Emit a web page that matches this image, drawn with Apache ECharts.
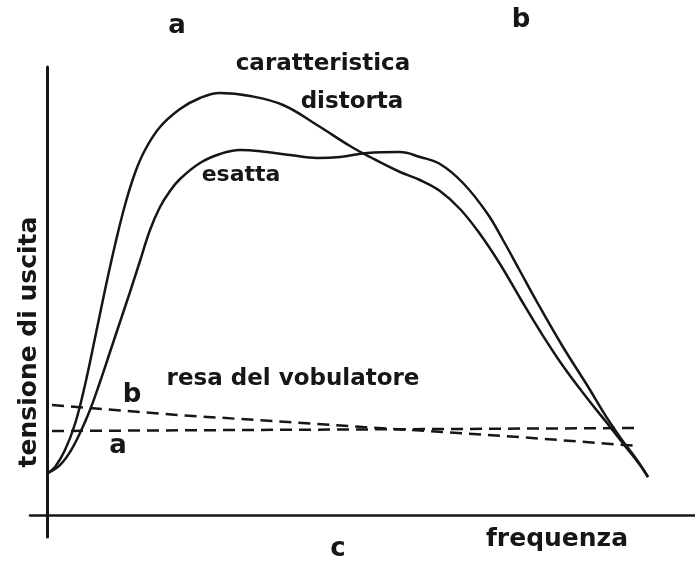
<!DOCTYPE html>
<html lang="it">
<head>
  <meta charset="UTF-8">
  <title>caratteristica</title>
  <script src="https://cdn.jsdelivr.net/npm/echarts@6/dist/echarts.min.js"></script>
</head>
<body style="margin: 0; background: #fff;">
<div id="main" style="width: 695px; height: 561px;"></div>
<script type="text/javascript">
  // valori (frequenza, tensione) in unità arbitrarie
  const distorta = [
    [1, 42], [8, 48], [18, 65], [28, 91], [38, 130], [48, 177], [58, 225],
    [68, 270], [78, 310], [88, 342], [98, 365], [113, 388], [133, 406],
    [153, 417], [173, 422], [203, 419], [236, 410], [270, 390], [303, 369],
    [323, 358], [353, 343], [373, 335], [393, 324], [413, 306], [433, 281],
    [453, 251], [473, 217], [493, 184], [516, 149], [540, 117], [560, 92],
    [578, 69], [593, 50], [601, 38]
  ]
  const esatta = [
    [1, 42], [13, 50], [23, 63], [33, 82], [43, 105], [53, 133], [63, 163],
    [73, 193], [83, 223], [93, 254], [103, 285], [113, 308], [123, 324],
    [133, 336], [153, 352], [173, 361], [193, 365], [220, 363], [243, 360],
    [270, 357], [293, 358], [320, 362], [353, 363], [373, 358], [393, 351],
    [416, 332], [440, 302], [456, 275], [473, 244], [490, 213], [516, 168],
    [540, 130], [560, 97], [575, 75], [590, 55], [601, 38]
  ]
  // resa del vobulatore
  const resaA = [[5, 84], [200, 85], [400, 86], [591, 87]]
  const resaB = [[5, 110], [130, 100], [241, 93], [316, 88], [396, 83], [485, 77], [591, 69]]

  const myChart = echarts.init(document.getElementById('main'))

  const ink = '#161616'
  const font = 'DejaVu Sans'

  function label(text, x, y, size, rot) {
    return {
      type: 'text',
      x: x, y: y,
      rotation: rot || 0,
      style: {
        text: text,
        x: 0, y: 0,
        fill: ink,
        font: 'bold ' + size + 'px "' + font + '"',
        align: 'center',
        verticalAlign: 'middle'
      }
    }
  }

  const solid = {color: ink, width: 2.5}
  const dashed = {color: ink, width: 2.5, type: [12, 7]}

  const option = {
    animation: false,
    grid: {left: 30, right: 0, top: 67, bottom: 24},
    xAxis: {
      type: 'value', min: -17, max: 648,
      axisLine: {onZero: true, lineStyle: {color: ink, width: 2.5}},
      axisTick: {show: false}, axisLabel: {show: false}, splitLine: {show: false}
    },
    yAxis: {
      type: 'value', min: -22, max: 448,
      axisLine: {show: true, onZero: true, lineStyle: {color: ink, width: 3}},
      axisTick: {show: false}, axisLabel: {show: false}, splitLine: {show: false}
    },
    series: [
      {name: 'distorta', type: 'line', data: distorta, smooth: 0.4, showSymbol: false, lineStyle: solid},
      {name: 'esatta', type: 'line', data: esatta, smooth: 0.4, showSymbol: false, lineStyle: solid},
      {name: 'a', type: 'line', data: resaA, showSymbol: false, lineStyle: dashed},
      {name: 'b', type: 'line', data: resaB, showSymbol: false, lineStyle: dashed}
    ],
    graphic: [
      label('a', 177, 26, 26),
      label('b', 521, 20, 26),
      label('caratteristica', 323, 64, 23),
      label('distorta', 352, 102, 23),
      label('esatta', 241, 175, 22),
      label('resa del vobulatore', 293, 379, 23),
      label('b', 132, 395, 26),
      label('a', 118, 446, 26),
      label('c', 338, 549, 26),
      label('frequenza', 557, 539, 25),
      label('tensione di uscita', 29, 342, 25, Math.PI / 2)
    ]
  }

  myChart.setOption(option)
</script>
</body>
</html>
